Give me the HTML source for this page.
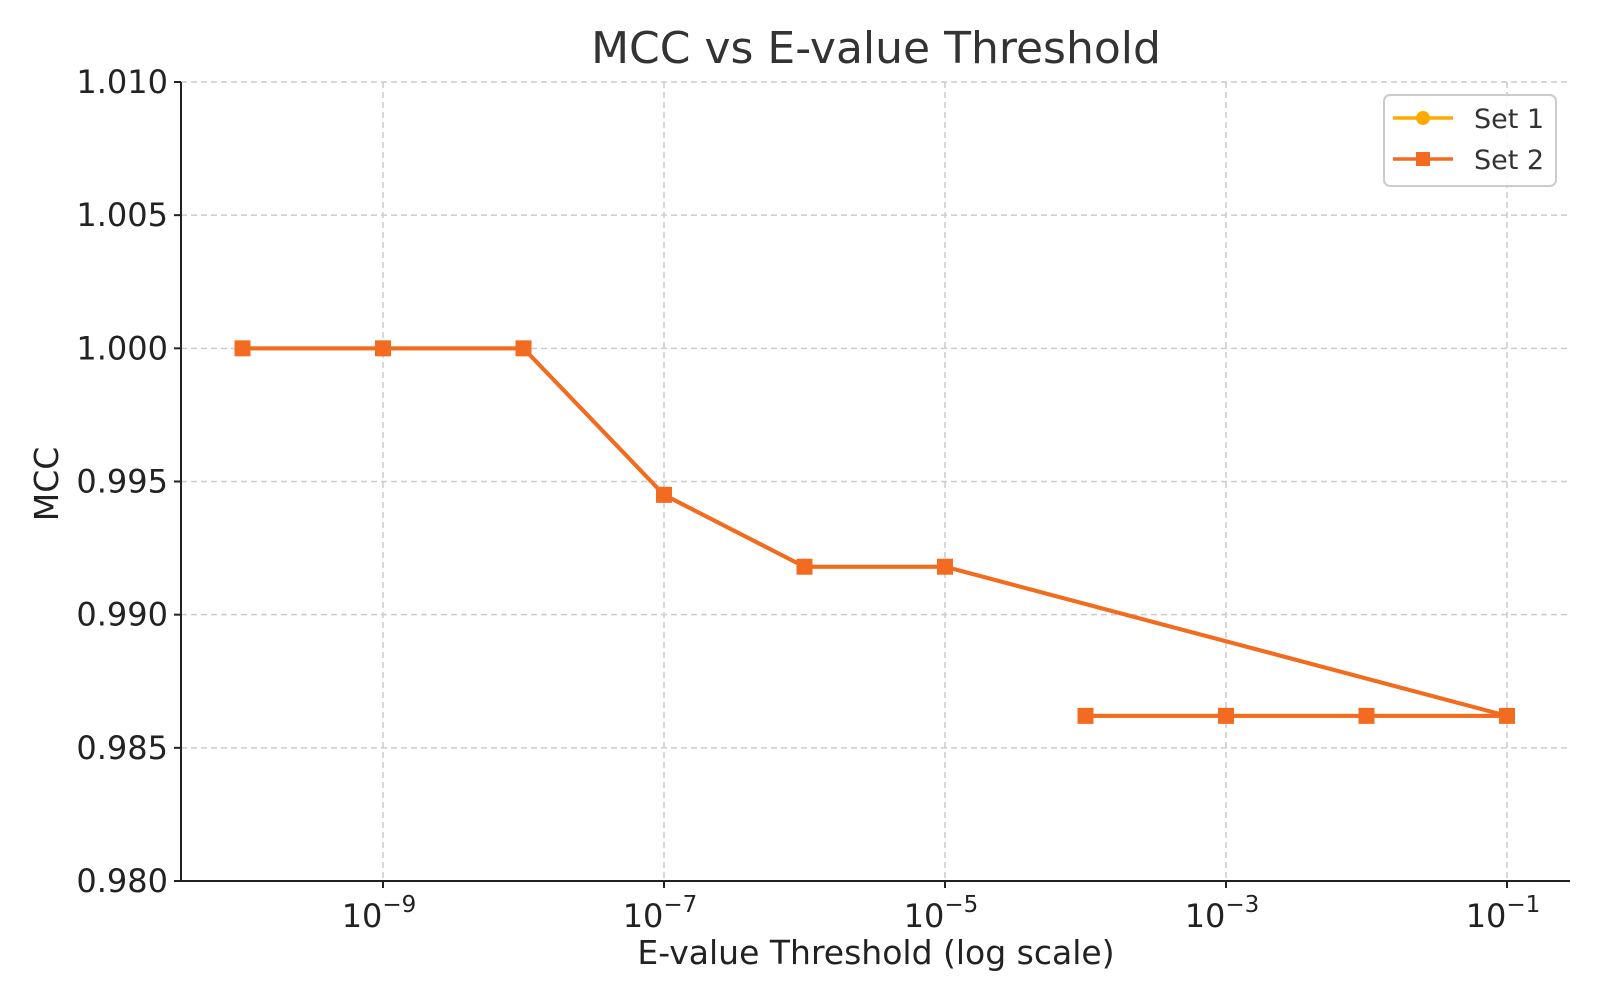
<!DOCTYPE html>
<html><head><meta charset="utf-8"><style>
body{margin:0;background:#fff}
svg text{font-family:"DejaVu Sans","Liberation Sans",sans-serif}
</style></head><body>
<svg id="chart" width="1600" height="1000" xmlns="http://www.w3.org/2000/svg">
<rect width="1600" height="1000" fill="#fff"/>
<text x="876" y="63" font-size="44" text-anchor="middle" fill="#333">MCC vs E-value Threshold</text>
<g id="grid"></g>
<g id="axes"></g>
<g id="series"></g>
<text x="876" y="964" font-size="33" text-anchor="middle" fill="#222">E-value Threshold (log scale)</text>
<text transform="translate(58,484) rotate(-90)" font-size="33" text-anchor="middle" fill="#222">MCC</text>
<g>
<rect x="1384" y="95" width="172" height="91" rx="6" fill="#fff" fill-opacity="0.85" stroke="#ccc" stroke-width="2"/>
<g>
<line x1="1393" y1="118" x2="1453" y2="118" stroke="#FFAA00" stroke-width="3.5"/>
<circle cx="1423" cy="118" r="7" fill="#FFAA00"/>
<text x="1474" y="128" font-size="27" fill="#333">Set 1</text></g>
<g>
<line x1="1393" y1="159" x2="1453" y2="159" stroke="#F26B21" stroke-width="3.5"/>
<rect x="1416" y="152" width="14" height="14" fill="#F26B21"/>
<text x="1474" y="169" font-size="27" fill="#333">Set 2</text></g>
</g>
</svg>
<script>
const xValues=[1e-10,1e-9,1e-8,1e-7,1e-6,1e-5,1e-1,1e-2,1e-3,1e-4];
const set1Values=[1.0,1.0,1.0,0.9945,0.9918,0.9918,0.9862,0.9862,0.9862,0.9862];
const set2Values=[1.0,1.0,1.0,0.9945,0.9918,0.9918,0.9862,0.9862,0.9862,0.9862];
const xTickExps=[-9,-7,-5,-3,-1];
const yTicks=[0.980,0.985,0.990,0.995,1.000,1.005,1.010];
const L=181,R=1570,T=82,B=881;
const NS="http://www.w3.org/2000/svg";
function xs(v){return 383+(Math.log10(v)+9)*140.5;}
function ys(v){return B-(v-0.98)/(0.03)*(B-T);}
function mk(t,a,p){const e=document.createElementNS(NS,t);for(const k in a)e.setAttribute(k,a[k]);p.appendChild(e);return e;}
const grid=document.getElementById('grid'),axes=document.getElementById('axes'),ser=document.getElementById('series');
xTickExps.forEach(e=>{const x=xs(Math.pow(10,e));
const g=mk('line',{x1:x,x2:x,y1:T,y2:B,stroke:'#ccc','stroke-width':1.5,'stroke-dasharray':'6,4'},grid);


mk('line',{x1:x,x2:x,y1:B,y2:B+7,stroke:'#222','stroke-width':2},axes);
const t=mk('text',{x:x-4,y:B+46,'font-size':32,'text-anchor':'middle',fill:'#222'},axes);


t.innerHTML='10<tspan dy="-15" font-size="23">\u2212'+Math.abs(e)+'</tspan>';});
yTicks.forEach(v=>{const y=ys(v);
const g=mk('line',{x1:L,x2:R,y1:y,y2:y,stroke:'#ccc','stroke-width':1.5,'stroke-dasharray':'6,4'},grid);


mk('line',{x1:L-7,x2:L,y1:y,y2:y,stroke:'#222','stroke-width':2},axes);
const t=mk('text',{x:L-13,y:y+11,'font-size':32,'text-anchor':'end',fill:'#222'},axes);


t.textContent=v.toFixed(3);});
const ax=mk('path',{d:`M${L},${T} L${L},${B} L${R},${B}`,fill:'none',stroke:'#222','stroke-width':2},axes);


function draw(vals,color,sq,name){
const pts=vals.map((v,i)=>xs(xValues[i])+','+ys(v)).join(' ');
const pl=mk('polyline',{points:pts,fill:'none',stroke:color,'stroke-width':4,'stroke-linejoin':'round'},ser);


vals.forEach((v,i)=>{const x=xs(xValues[i]),y=ys(v);let m;
if(sq)m=mk('rect',{x:x-8,y:y-8,width:16,height:16,fill:color},ser);
else m=mk('circle',{cx:x,cy:y,r:8,fill:color},ser);

});}
draw(set1Values,'#FFAA00',false,'set-1');
draw(set2Values,'#F26B21',true,'set-2');
</script>
</body></html>
